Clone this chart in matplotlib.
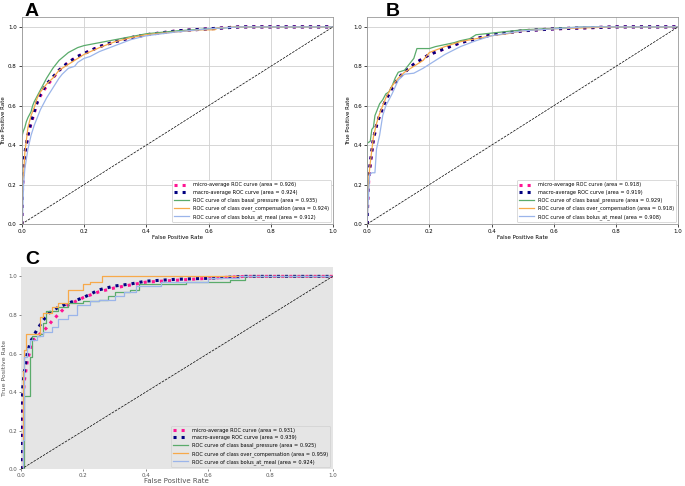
import matplotlib
matplotlib.use("Agg")
import matplotlib.pyplot as plt
import numpy as np

plt.rcParams['font.family'] = ['DejaVu Sans']

# ---------------- Panel A data ----------------
A_micro_fpr = [0, 0.002, 0.005, 0.01, 0.02, 0.03, 0.04, 0.05, 0.06, 0.08, 0.10, 0.12, 0.15, 0.18, 0.20, 0.25, 0.30, 0.35, 0.40, 0.50, 0.60, 0.70, 1.0]
A_micro_tpr = [0, 0.15, 0.26, 0.35, 0.45, 0.51, 0.56, 0.62, 0.65, 0.70, 0.74, 0.78, 0.82, 0.85, 0.865, 0.90, 0.925, 0.945, 0.96, 0.98, 0.99, 1.0, 1.0]
A_macro_fpr = [0, 0.002, 0.005, 0.01, 0.02, 0.03, 0.04, 0.05, 0.06, 0.08, 0.10, 0.12, 0.15, 0.18, 0.20, 0.25, 0.30, 0.35, 0.40, 0.50, 0.60, 0.70, 1.0]
A_macro_tpr = [0, 0.18, 0.28, 0.36, 0.45, 0.52, 0.57, 0.62, 0.66, 0.71, 0.745, 0.78, 0.82, 0.85, 0.865, 0.90, 0.925, 0.945, 0.96, 0.98, 0.99, 1.0, 1.0]
A_green_fpr = [0, 0.0, 0.005, 0.01, 0.015, 0.02, 0.03, 0.035, 0.04, 0.05, 0.06, 0.07, 0.08, 0.10, 0.12, 0.15, 0.18, 0.20, 0.25, 0.30, 0.35, 0.40, 0.50, 0.60, 0.70, 1.0]
A_green_tpr = [0, 0.44, 0.47, 0.49, 0.52, 0.54, 0.57, 0.60, 0.62, 0.65, 0.68, 0.71, 0.74, 0.79, 0.83, 0.87, 0.895, 0.905, 0.92, 0.935, 0.95, 0.965, 0.98, 0.99, 1.0, 1.0]
A_orange_fpr = [0, 0.003, 0.006, 0.01, 0.02, 0.03, 0.04, 0.05, 0.06, 0.08, 0.10, 0.12, 0.15, 0.18, 0.20, 0.25, 0.30, 0.35, 0.40, 0.50, 0.58, 0.62, 0.63, 0.70, 1.0]
A_orange_tpr = [0, 0.22, 0.25, 0.36, 0.49, 0.55, 0.59, 0.64, 0.67, 0.71, 0.74, 0.78, 0.81, 0.84, 0.86, 0.895, 0.925, 0.945, 0.96, 0.975, 0.985, 0.985, 0.995, 1.0, 1.0]
A_blue_fpr = [0, 0.003, 0.006, 0.01, 0.02, 0.03, 0.04, 0.05, 0.06, 0.08, 0.10, 0.12, 0.13, 0.15, 0.17, 0.18, 0.20, 0.22, 0.25, 0.30, 0.35, 0.40, 0.50, 0.60, 0.70, 1.0]
A_blue_tpr = [0, 0.05, 0.2, 0.28, 0.38, 0.45, 0.5, 0.54, 0.58, 0.64, 0.69, 0.74, 0.76, 0.79, 0.80, 0.82, 0.84, 0.85, 0.875, 0.905, 0.935, 0.955, 0.975, 0.99, 1.0, 1.0]
A_auc = [0.926, 0.924, 0.935, 0.924, 0.912]

# ---------------- Panel B data ----------------
B_micro_fpr = [0, 0.002, 0.005, 0.01, 0.02, 0.03, 0.04, 0.05, 0.06, 0.08, 0.10, 0.12, 0.15, 0.18, 0.20, 0.25, 0.30, 0.35, 0.40, 0.50, 0.60, 0.80, 1.0]
B_micro_tpr = [0, 0.12, 0.22, 0.30, 0.43, 0.50, 0.55, 0.59, 0.63, 0.69, 0.74, 0.77, 0.81, 0.84, 0.86, 0.89, 0.92, 0.94, 0.96, 0.98, 0.99, 1.0, 1.0]
B_macro_fpr = [0, 0.002, 0.005, 0.01, 0.02, 0.03, 0.04, 0.05, 0.06, 0.08, 0.10, 0.12, 0.15, 0.18, 0.20, 0.25, 0.30, 0.35, 0.40, 0.50, 0.60, 0.80, 1.0]
B_macro_tpr = [0, 0.15, 0.24, 0.31, 0.43, 0.50, 0.55, 0.59, 0.63, 0.69, 0.74, 0.77, 0.81, 0.84, 0.86, 0.89, 0.92, 0.94, 0.96, 0.98, 0.99, 1.0, 1.0]
B_green_fpr = [0, 0.0, 0.01, 0.015, 0.02, 0.025, 0.03, 0.04, 0.05, 0.06, 0.07, 0.08, 0.09, 0.10, 0.12, 0.13, 0.15, 0.16, 0.20, 0.22, 0.28, 0.30, 0.33, 0.35, 0.50, 0.70, 1.0]
B_green_tpr = [0, 0.41, 0.42, 0.48, 0.49, 0.55, 0.57, 0.61, 0.63, 0.66, 0.67, 0.70, 0.74, 0.77, 0.78, 0.80, 0.84, 0.89, 0.89, 0.90, 0.92, 0.93, 0.94, 0.96, 0.985, 1.0, 1.0]
B_orange_fpr = [0, 0.003, 0.006, 0.01, 0.02, 0.03, 0.04, 0.05, 0.06, 0.08, 0.10, 0.12, 0.15, 0.18, 0.20, 0.25, 0.30, 0.35, 0.40, 0.45, 0.50, 0.60, 0.80, 1.0]
B_orange_tpr = [0, 0.17, 0.25, 0.31, 0.44, 0.51, 0.56, 0.60, 0.64, 0.70, 0.74, 0.77, 0.80, 0.83, 0.87, 0.90, 0.925, 0.94, 0.955, 0.965, 0.98, 0.99, 1.0, 1.0]
B_blue_fpr = [0, 0.003, 0.008, 0.015, 0.025, 0.03, 0.04, 0.05, 0.06, 0.07, 0.08, 0.10, 0.12, 0.15, 0.18, 0.20, 0.25, 0.30, 0.35, 0.40, 0.50, 0.60, 0.70, 1.0]
B_blue_tpr = [0, 0.10, 0.25, 0.26, 0.26, 0.38, 0.45, 0.55, 0.60, 0.63, 0.66, 0.73, 0.76, 0.765, 0.79, 0.81, 0.86, 0.90, 0.93, 0.955, 0.98, 0.99, 1.0, 1.0]
B_auc = [0.918, 0.919, 0.929, 0.918, 0.908]

# ---------------- Panel C data ----------------
C_micro_fpr = [0, 0.0, 0.005, 0.01, 0.02, 0.03, 0.04, 0.06, 0.08, 0.10, 0.13, 0.15, 0.20, 0.25, 0.30, 0.40, 0.50, 0.60, 0.72, 1.0]
C_micro_tpr = [0, 0.13, 0.30, 0.45, 0.56, 0.62, 0.67, 0.70, 0.73, 0.77, 0.82, 0.85, 0.89, 0.92, 0.94, 0.97, 0.98, 0.99, 1.0, 1.0]
C_macro_fpr = [0, 0.0, 0.01, 0.02, 0.03, 0.05, 0.07, 0.09, 0.12, 0.15, 0.20, 0.25, 0.30, 0.35, 0.40, 0.50, 0.60, 0.72, 1.0]
C_macro_tpr = [0, 0.33, 0.50, 0.60, 0.66, 0.72, 0.77, 0.81, 0.84, 0.86, 0.89, 0.93, 0.95, 0.96, 0.975, 0.985, 0.99, 1.0, 1.0]
C_green_fpr = [0, 0.01, 0.03, 0.035, 0.06, 0.07, 0.08, 0.12, 0.15, 0.20, 0.25, 0.28, 0.30, 0.35, 0.38, 0.53, 0.67, 0.72, 1.0]
C_green_tpr = [0, 0.38, 0.58, 0.69, 0.70, 0.76, 0.82, 0.84, 0.86, 0.87, 0.88, 0.90, 0.92, 0.93, 0.96, 0.97, 0.98, 1.0, 1.0]
C_orange_fpr = [0, 0.005, 0.01, 0.015, 0.06, 0.062, 0.07, 0.10, 0.12, 0.15, 0.20, 0.22, 0.26, 1.0]
C_orange_tpr = [0, 0.51, 0.62, 0.70, 0.79, 0.79, 0.81, 0.84, 0.86, 0.93, 0.96, 0.97, 1.0, 1.0]
C_blue_fpr = [0, 0.005, 0.01, 0.02, 0.03, 0.05, 0.07, 0.10, 0.12, 0.15, 0.18, 0.22, 0.25, 0.30, 0.33, 0.37, 0.45, 0.60, 0.70, 1.0]
C_blue_tpr = [0, 0.15, 0.58, 0.63, 0.67, 0.69, 0.71, 0.74, 0.78, 0.80, 0.85, 0.87, 0.88, 0.90, 0.92, 0.95, 0.97, 0.99, 1.0, 1.0]
C_auc = [0.931, 0.939, 0.925, 0.959, 0.924]

class_names = ['basal_pressure', 'over_compensation', 'bolus_at_meal']
ticks = [0.0, 0.2, 0.4, 0.6, 0.8, 1.0]
tick_labels = ['0.0', '0.2', '0.4', '0.6', '0.8', '1.0']

GREEN = '#5aab6b'
ORANGE = '#f7a94a'
BLUE = '#9bb5ea'

fig = plt.figure(figsize=(6.85, 4.86), dpi=100)


def draw(ax, data, auc, steps, ggplot=False):
    (mf, mt), (af, at), (gf, gt), (of, ot), (bf, bt) = data
    ds = 'steps-post' if steps else 'default'
    ax.plot(mf, mt, color='deeppink', linestyle=':', linewidth=2.2,
            label='micro-average ROC curve (area = {:.3f})'.format(auc[0]))
    ax.plot(af, at, color='navy', linestyle=':', linewidth=2.2,
            label='macro-average ROC curve (area = {:.3f})'.format(auc[1]))
    ax.plot(gf, gt, color=GREEN, lw=0.9, drawstyle=ds,
            label='ROC curve of class {} (area = {:.3f})'.format(class_names[0], auc[2]))
    ax.plot(of, ot, color=ORANGE, lw=0.9, drawstyle=ds,
            label='ROC curve of class {} (area = {:.3f})'.format(class_names[1], auc[3]))
    ax.plot(bf, bt, color=BLUE, lw=0.9, drawstyle=ds,
            label='ROC curve of class {} (area = {:.3f})'.format(class_names[2], auc[4]))
    ax.plot([0, 1], [0, 1], 'k--', lw=0.5)
    ax.set_xlim(0.0, 1.0)
    ax.set_ylim(0.0, 1.05)
    ax.set_xticks(ticks)
    ax.set_xticklabels(tick_labels)
    ax.set_yticks(ticks)
    ax.set_yticklabels(tick_labels)
    if ggplot:
        ax.set_facecolor('#e5e5e5')
        for s in ax.spines.values():
            s.set_visible(False)
        ax.tick_params(labelsize=4, colors='#555555', length=1.5, width=0.5, pad=1)
        ax.set_xlabel('False Positive Rate', fontsize=5, color='#555555', labelpad=0)
        ax.set_ylabel('True Positive Rate', fontsize=4.5, color='#555555', labelpad=1)
        leg = ax.legend(loc='lower right', fontsize=3.6, framealpha=1,
                        facecolor='#e5e5e5', edgecolor='#d0d0d0', handlelength=3)
    else:
        ax.grid(True, color='#d0d0d0', lw=0.6)
        for s in ax.spines.values():
            s.set_color('#999999')
            s.set_linewidth(0.6)
        ax.tick_params(labelsize=4, length=2, width=0.5, pad=1.5)
        ax.set_xlabel('False Positive Rate', fontsize=4, labelpad=1)
        ax.set_ylabel('True Positive Rate', fontsize=4, labelpad=1.5)
        leg = ax.legend(loc='lower right', fontsize=3.6, framealpha=1,
                        edgecolor='#cccccc', handlelength=3)
    leg.get_frame().set_linewidth(0.5)
    ax.set_axisbelow(True)


axA = fig.add_axes([0.0317, 0.539, 0.4545, 0.426])
draw(axA, [(A_micro_fpr, A_micro_tpr), (A_macro_fpr, A_macro_tpr), (A_green_fpr, A_green_tpr),
           (A_orange_fpr, A_orange_tpr), (A_blue_fpr, A_blue_tpr)], A_auc, steps=False)

axB = fig.add_axes([0.536, 0.539, 0.454, 0.426])
draw(axB, [(B_micro_fpr, B_micro_tpr), (B_macro_fpr, B_macro_tpr), (B_green_fpr, B_green_tpr),
           (B_orange_fpr, B_orange_tpr), (B_blue_fpr, B_blue_tpr)], B_auc, steps=False)

axC = fig.add_axes([0.0307, 0.0344, 0.455, 0.4168])
draw(axC, [(C_micro_fpr, C_micro_tpr), (C_macro_fpr, C_macro_tpr), (C_green_fpr, C_green_tpr),
           (C_orange_fpr, C_orange_tpr), (C_blue_fpr, C_blue_tpr)], C_auc, steps=True, ggplot=True)

lab_kw = dict(fontsize=14, fontweight='bold', family='Liberation Sans')
fig.text(25 / 685, 1 - 16 / 486, 'A', **lab_kw)
fig.text(386 / 685, 1 - 16 / 486, 'B', **lab_kw)
fig.text(25 / 685, 1 - 264 / 486, 'C', **lab_kw)

fig.savefig('out.png', dpi=100)
